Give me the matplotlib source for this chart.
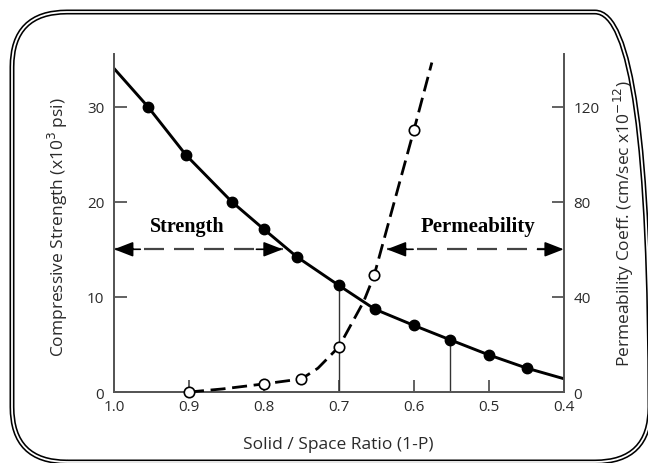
import numpy as np
import matplotlib
matplotlib.use("Agg")
import matplotlib.pyplot as plt
from matplotlib.patches import FancyBboxPatch
from matplotlib.transforms import IdentityTransform

# valeurs lues sur la figure
# resistance en compression (x10^3 psi) en fonction du rapport solide/espace
str_x = [1.0, 0.955, 0.904, 0.843, 0.80, 0.756, 0.70, 0.652, 0.60, 0.552, 0.50, 0.449, 0.4]
str_y = [34.0, 30.0, 24.9, 20.0, 17.1, 14.2, 11.2, 8.7, 7.0, 5.5, 3.9, 2.5, 1.4]

# coefficient de permeabilite (cm/sec x10^-12)
perm_x = [0.9, 0.855, 0.8, 0.75, 0.728, 0.70, 0.667, 0.653, 0.60, 0.576]
perm_y = [0, 1.3, 3.4, 5.5, 10.0, 19, 38, 49, 110, 138.5]
perm_pts = [0, 2, 3, 5, 7, 8]   # points mesures (cercles vides)

# traits verticaux
vlines_x = [0.70, 0.552]
vlines_top = [11.2, 5.5]

# fleches horizontales (echelle de gauche)
arrow_y = 15
strength_span = [1.0, 0.775]
perm_span = [0.636, 0.4]

xticks = [1.0, 0.9, 0.8, 0.7, 0.6, 0.5, 0.4]
xticklabels = ["1.0", "0.9", "0.8", "0.7", "0.6", "0.5", "0.4"]
yticks_left = [0, 10, 20, 30]
yticks_right = [0, 40, 80, 120]

plt.rcParams['font.family'] = ['Open Sans', 'DejaVu Sans']
txt = '#2a2a2a'
spine = '#555555'

fig = plt.figure(figsize=(6.48, 4.64), dpi=100)
ax = fig.add_axes([0.176, 0.153, 0.694, 0.728])
ax2 = ax.twinx()

ax.set_xlim(1.0, 0.4)
ax.set_ylim(0, 35.5)
ax2.set_ylim(0, 142)

# courbe resistance
ax.plot(str_x, str_y, '-', color='black', lw=2.1, marker='o', ms=7.5,
        markevery=list(range(1, len(str_x) - 1)), zorder=4)

# courbe permeabilite
ax2.plot(perm_x, perm_y, color='black', lw=2.0, dashes=(5.4, 2.4),
         marker='o', ms=7.5, mfc='white', mec='black', mew=1.2,
         markevery=perm_pts, zorder=4, clip_on=False)

for x, top in zip(vlines_x, vlines_top):
    ax.plot([x, x], [0, top], color='#333333', lw=1.0, zorder=2)

# fleches
for span in (strength_span, perm_span):
    ax.plot(span, [arrow_y, arrow_y], color='#444444', lw=1.6, dashes=(9, 4.5), zorder=3)
    d = 0.035 if span[0] > span[1] else -0.035
    for tip, sgn in [(span[0], 1), (span[1], -1)]:
        ax.annotate('', xy=(tip, arrow_y), xytext=(tip - sgn * d, arrow_y),
                    arrowprops=dict(arrowstyle='-|>,head_length=0.9,head_width=0.35',
                                    color='black', lw=1.2,
                                    mutation_scale=13, shrinkA=0, shrinkB=0),
                    zorder=5)

ax.text(0.903, 17.4, "Strength", family='Liberation Serif', weight='bold',
        fontsize=14.5, ha='center', va='center', color='black')
ax.text(0.515, 17.4, "Permeability", family='Liberation Serif', weight='bold',
        fontsize=15, ha='center', va='center', color='black')

ax.set_xticks(xticks)
ax.set_xticklabels(xticklabels)
ax.set_yticks(yticks_left)
ax2.set_yticks(yticks_right)

for a in (ax, ax2):
    a.spines['top'].set_visible(False)
    for s in ('left', 'right', 'bottom'):
        a.spines[s].set_color(spine)
        a.spines[s].set_linewidth(1.3)
    a.tick_params(direction='in', length=9, width=1.3, color=spine,
                  labelsize=11, labelcolor=txt, pad=7)
ax.tick_params(axis='x', pad=5)

ax.set_xlabel("Solid / Space Ratio (1-P)", fontsize=12.5, color=txt)
ax.xaxis.set_label_coords(0.498, -0.13)
ax.set_ylabel("Compressive Strength (x10$^3$ psi)", fontsize=12.5, color=txt)
ax.yaxis.set_label_coords(-0.098, 0.49)
ax2.set_ylabel("Permeability Coeff. (cm/sec x10$^{-12}$)", fontsize=12.5, color=txt)
ax2.yaxis.set_label_coords(1.107, 0.5)

# cadre arrondi double
for lw, col in [(3.6, 'black'), (1.3, 'white')]:
    box = FancyBboxPatch((12, 1), 638, 450, boxstyle="round,pad=0,rounding_size=55",
                         fill=False, ec=col, lw=lw, transform=IdentityTransform())
    fig.add_artist(box)

fig.savefig("out.png", dpi=100)
